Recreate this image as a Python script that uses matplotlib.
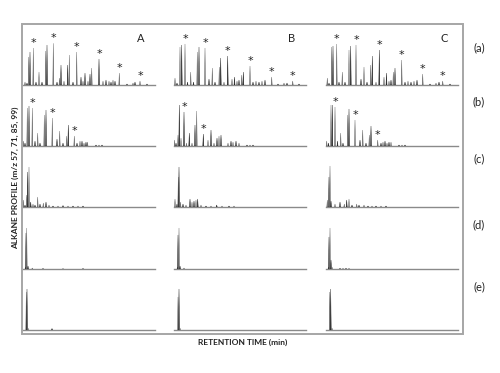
import matplotlib
matplotlib.use("Agg")
import matplotlib.pyplot as plt
from matplotlib.patches import Rectangle, Polygon

plt.rcParams['font.family'] = ['Lato', 'DejaVu Sans']

W, H = 500, 373

# ---------------- data: peaks (retention position, height) per trace ----------------
A_a_x = [2, 4, 5.7, 7, 10.3, 13, 16, 19, 22.7, 24, 30.3, 34, 36.5, 38, 41, 44.7, 46.3, 50, 53.7, 58, 60, 62, 65, 67, 68.7, 76, 80, 83, 86, 88, 90, 92, 96.3, 104, 110, 112, 117, 124]
A_a_h = [3, 2, 28, 33, 37, 3, 13, 3, 34, 40, 41.7, 3, 7, 20, 4, 20, 30, 3, 33, 8, 4, 12, 4, 11, 17, 26, 4, 5, 4, 3, 5, 4, 12, 1, 2, 3, 4, 1]
A_a_s = [10.3, 30.3, 53.7, 76, 96.3, 117]

B_a_x = [1, 3, 6, 7.7, 11, 13.5, 16.7, 19.5, 23.3, 25, 31, 35, 38.3, 41, 45.3, 46.7, 50, 53.7, 58, 60.5, 63, 65, 67.7, 69.3, 76, 79, 82, 85, 88, 91, 97.7, 104, 110, 113, 118.7, 125]
B_a_h = [7, 2, 38, 40, 41, 3, 13, 3, 33, 38, 37, 6, 17, 3, 18, 27, 3, 29, 6, 8, 4, 5, 10, 13, 19, 3, 4, 3, 4, 5, 8, 1, 2, 2, 4, 1]
B_a_s = [11, 31, 53.7, 76, 97.7, 118.7]

C_a_x = [1.3, 3, 5.7, 7, 10.7, 13, 16.3, 19, 23, 24.7, 30, 35, 38, 41, 44.7, 46.3, 50, 53.3, 58, 60.5, 63, 65, 67.3, 69, 75.7, 79, 82, 85, 88, 91, 96.7, 104, 110, 113, 116.7, 124]
C_a_h = [7, 2, 38, 39, 41, 3, 13, 3, 35, 39, 40, 6, 18, 3, 20, 29, 3, 35, 8, 12, 4, 5, 13, 17, 25, 3, 4, 3, 4, 5, 11, 1, 2, 3, 4, 1]
C_a_s = [10.7, 30, 53.3, 75.7, 96.7, 116.7]

A_b_x = [0.3, 2, 4.3, 6, 9.3, 12, 14.7, 17, 21.3, 23, 29.3, 34, 36.7, 40, 43.7, 45.3, 51.3, 54, 57, 59, 61, 63, 64.5, 73, 76, 79]
A_b_h = [5, 3, 38, 40, 38, 5, 13, 3, 31, 36, 28, 7, 15, 3, 10, 21, 10, 3, 5, 5, 3, 4, 4, 1, 1, 1]
A_b_s = [9.3, 29.3, 51.3]

B_b_x = [0.3, 2, 4, 5.3, 7, 10, 12.5, 15.3, 18, 21, 22.7, 29.3, 34, 37, 40, 43, 45, 47, 54, 57, 59, 62, 65, 73, 76, 79]
B_b_h = [6, 3, 11, 41, 8, 34, 3, 13, 3, 21, 35, 12, 6, 16, 3, 8, 10, 11, 3, 5, 4, 5, 3, 1, 1, 1]
B_b_s = [10, 29.3]

C_b_x = [0.7, 2.5, 5, 6.3, 9, 11.5, 14.7, 17, 21.7, 23, 29, 34, 36.7, 40, 43.3, 45, 51.7, 55, 57, 59, 61, 63, 65, 73, 76, 79]
C_b_h = [5, 3, 41, 41, 39, 5, 13, 3, 31, 37, 26, 6, 16, 3, 11, 20, 6, 3, 4, 5, 3, 4, 4, 1, 1, 1]
C_b_s = [9, 29, 51.7]

A_c_x = [0.3, 2, 3.7, 4.7, 6, 7.7, 10, 12, 14.7, 17, 20.3, 23, 26, 30, 35, 40, 45, 50, 55, 60]
A_c_h = [7, 2, 12, 35, 40, 5, 3, 2, 10, 3, 4, 5, 2, 1, 1, 1.5, 1, 1, 1, 1]

B_c_x = [1, 3, 4.3, 5, 6.5, 9, 12, 16, 18, 20, 22, 23.7, 27, 32, 37, 42.7, 48, 55, 60]
B_c_h = [8, 3, 30, 40, 5, 3, 2, 8, 5, 6, 7, 8, 2, 1, 1, 2, 1, 1, 1]

C_c_x = [1.3, 3, 4, 5, 9, 14, 18.3, 20.7, 23, 26, 30.7, 33, 38, 42, 46, 50, 55, 60]
C_c_h = [7, 30, 41, 6, 3, 5, 3, 7, 8, 2, 3, 2, 2, 1, 1, 1, 1, 1]

A_d_x = [2.5, 3, 3.7, 5, 9.3, 20, 40, 60]
A_d_h = [2, 36, 41, 3, 1, 0.5, 0.5, 0.5]
B_d_x = [3.5, 4, 5, 6, 10]
B_d_h = [2, 34, 41, 3, 1]
C_d_x = [2.5, 3, 4, 5, 6, 14, 17, 20, 23]
C_d_h = [2, 32, 41, 9, 2, 0.7, 0.7, 0.7, 0.7]

A_e_x = [3.3, 4, 5, 29]
A_e_h = [38, 41, 2, 1.5]
B_e_x = [4, 5, 6]
B_e_h = [33, 41, 2]
C_e_x = [3.7, 4.7, 6]
C_e_h = [38, 41, 2]

columns = ['A', 'B', 'C']
rows = ['(a)', '(b)', '(c)', '(d)', '(e)']

traces = {
    ('A', 0): (A_a_x, A_a_h, A_a_s), ('B', 0): (B_a_x, B_a_h, B_a_s), ('C', 0): (C_a_x, C_a_h, C_a_s),
    ('A', 1): (A_b_x, A_b_h, A_b_s), ('B', 1): (B_b_x, B_b_h, B_b_s), ('C', 1): (C_b_x, C_b_h, C_b_s),
    ('A', 2): (A_c_x, A_c_h, []), ('B', 2): (B_c_x, B_c_h, []), ('C', 2): (C_c_x, C_c_h, []),
    ('A', 3): (A_d_x, A_d_h, []), ('B', 3): (B_d_x, B_d_h, []), ('C', 3): (C_d_x, C_d_h, []),
    ('A', 4): (A_e_x, A_e_h, []), ('B', 4): (B_e_x, B_e_h, []), ('C', 4): (C_e_x, C_e_h, []),
}

# ---------------- layout ----------------
col_left = {'A': 23, 'B': 174, 'C': 326}
col_w = 132
row_base = [85, 146, 207, 269, 330]
row_h = 50
row_label_y = [48, 102, 159, 225, 287]

fig = plt.figure(figsize=(W / 100, H / 100), dpi=100)

# outer frame
fig.patches.append(Rectangle((22 / W, 1 - 334 / H), (463 - 22) / W, (334 - 24) / H,
                             transform=fig.transFigure, fill=False,
                             edgecolor='#a6a6a6', linewidth=1.4))

for (col, r), (xs, hs, stars) in traces.items():
    ax = fig.add_axes([col_left[col] / W, 1 - row_base[r] / H, col_w / W, row_h / H])
    ax.set_xlim(0, col_w)
    ax.set_ylim(0, row_h)
    ax.axis('off')
    ax.axhline(0, color='#8a8a8a', lw=1.0, clip_on=False, zorder=1)
    for i, (x, h) in enumerate(zip(xs, hs)):
        c = '#222222' if i % 2 else '#666666'
        ax.add_patch(Polygon([(x - 0.5, 0), (x, h), (x + 0.5, 0)], closed=True,
                             facecolor=c, edgecolor=c, lw=0.3, zorder=2))
    for sx in stars:
        sh = hs[xs.index(sx)]
        ax.text(sx, sh + 5, '*', ha='center', va='center', fontsize=8,
                color='#222222', family='DejaVu Sans')
    if r == 0:
        ax.text(col_w - 14, 46, col, ha='center', va='center', fontsize=8, color='#222222')

for lab, y in zip(rows, row_label_y):
    fig.text(479 / W, 1 - y / H, lab, ha='center', va='center', fontsize=8, color='#222222')

fig.text(15 / W, 1 - 178 / H, 'ALKANE PROFILE (m/z 57, 71, 85, 99)', rotation=90,
         ha='center', va='center', fontsize=6, fontweight='bold', color='#222222')
fig.text(243 / W, 1 - 342 / H, 'RETENTION TIME (min)', ha='center', va='center',
         fontsize=6, fontweight='bold', color='#222222')

fig.savefig('out.png', dpi=100)
